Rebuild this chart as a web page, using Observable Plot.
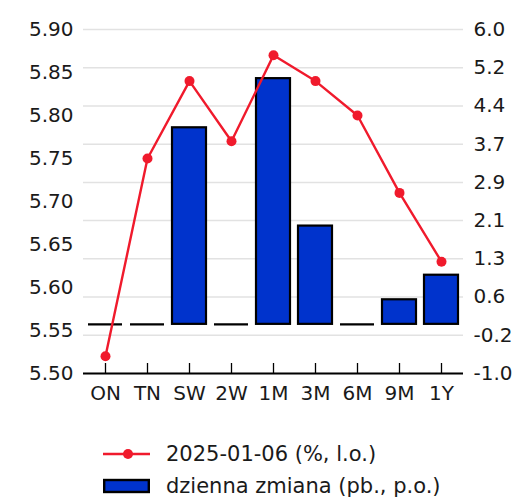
<!DOCTYPE html>
<html>
<head>
<meta charset="utf-8">
<script src="https://cdn.jsdelivr.net/npm/d3@7"></script>
<script src="https://cdn.jsdelivr.net/npm/@observablehq/plot@0.6"></script>
<style>
  body { margin: 0; background: #fff; font-family: "DejaVu Sans", sans-serif; color: #1a1a1a; }
  #wrap { position: relative; width: 513px; height: 499px; }
  #legend { position: absolute; left: 103px; top: 440px; font-size: 21px; }
  .row { display: flex; align-items: center; height: 28px; margin-bottom: 4px; }
  .row svg { margin-right: 16px; flex: none; }
</style>
</head>
<body>
<div id="wrap">
  <div id="chart"></div>
  <div id="legend"></div>
</div>
<script>
// Money-market tenors
const tenors = ["ON", "TN", "SW", "2W", "1M", "3M", "6M", "9M", "1Y"];
// Rate on 2025-01-06 (%, left axis)
const rate = [5.52, 5.75, 5.84, 5.77, 5.87, 5.84, 5.80, 5.71, 5.63];
// Daily change (bp, right axis)
const change = [0, 0, 4, 0, 5, 2, 0, 0.5, 1];

// Axis settings
const leftDomain = [5.50, 5.90];
const rightDomain = [-1, 6];
const leftTicks = [5.50, 5.55, 5.60, 5.65, 5.70, 5.75, 5.80, 5.85, 5.90];
const rightTickLabels = ["-1.0", "-0.2", "0.6", "1.3", "2.1", "2.9", "3.7", "4.4", "5.2", "6.0"];

// Series names
const lineName = "2025-01-06 (%, l.o.)";
const barName = "dzienna zmiana (pb., p.o.)";

const lineColor = "#f01a2c";
const barColor = "#0033cc";

// The y scale carries the right-hand axis; the left-hand values are mapped onto it.
const toRight = d3.scaleLinear(leftDomain, rightDomain);
const rows = tenors.map((t, i) => ({tenor: t, rate: rate[i], change: change[i]}));

// Right-hand ticks are evenly spaced across the domain
const rightTicks = rightTickLabels.map((_, i) =>
  rightDomain[0] + i * (rightDomain[1] - rightDomain[0]) / (rightTickLabels.length - 1));
const rightLabel = new Map(rightTicks.map((v, i) => [v, rightTickLabels[i]]));

const chart = Plot.plot({
  width: 513,
  height: 410,
  marginLeft: 83,
  marginRight: 50,
  marginTop: 29,
  marginBottom: 37,
  style: {fontFamily: "DejaVu Sans, sans-serif", fontSize: "20px", color: "#1a1a1a", background: "#fff"},
  x: {type: "band", domain: tenors, paddingInner: 0.2, paddingOuter: 0.04, label: null},
  y: {domain: rightDomain, label: null},
  marks: [
    Plot.ruleY(rightTicks, {stroke: "#e2e2e2", strokeWidth: 1.5}),
    Plot.barY(rows.filter(d => d.change !== 0), {x: "tenor", y1: 0, y2: "change", fill: barColor, stroke: "#000", strokeWidth: 2.2}),
    // unchanged tenors show only the flat outline of an empty bar
    Plot.tickY(rows.filter(d => d.change === 0), {x: "tenor", y: "change", stroke: "#000", strokeWidth: 2.4}),
    Plot.ruleY([rightDomain[0]], {stroke: "#000", strokeWidth: 1.8}),
    Plot.axisX({tickSize: -10, tickPadding: 22, stroke: "#000", strokeWidth: 1.3}),
    Plot.axisY(leftTicks.map(toRight), {
      anchor: "left", tickSize: 0, tickPadding: 10,
      tickFormat: d => toRight.invert(d).toFixed(2)
    }),
    Plot.axisY(rightTicks, {
      anchor: "right", tickSize: 0, tickPadding: 10,
      tickFormat: d => rightLabel.get(d)
    }),
    Plot.line(rows, {x: "tenor", y: d => toRight(d.rate), stroke: lineColor, strokeWidth: 2.4}),
    Plot.dot(rows, {x: "tenor", y: d => toRight(d.rate), r: 5, fill: lineColor, stroke: "none"})
  ]
});
document.getElementById("chart").append(chart);

// Legend below the plot
const legend = d3.select("#legend");
const r1 = legend.append("div").attr("class", "row");
const s1 = r1.append("svg").attr("width", 47).attr("height", 20);
s1.append("line").attr("x1", 0).attr("x2", 47).attr("y1", 10).attr("y2", 10)
  .attr("stroke", lineColor).attr("stroke-width", 2.4);
s1.append("circle").attr("cx", 25).attr("cy", 10).attr("r", 5).attr("fill", lineColor);
r1.append("span").text(lineName);

const r2 = legend.append("div").attr("class", "row");
const s2 = r2.append("svg").attr("width", 47).attr("height", 20);
s2.append("rect").attr("x", 1.2).attr("y", 4).attr("width", 44.6).attr("height", 12)
  .attr("fill", barColor).attr("stroke", "#000").attr("stroke-width", 2.4);
r2.append("span").text(barName);
</script>
</body>
</html>
